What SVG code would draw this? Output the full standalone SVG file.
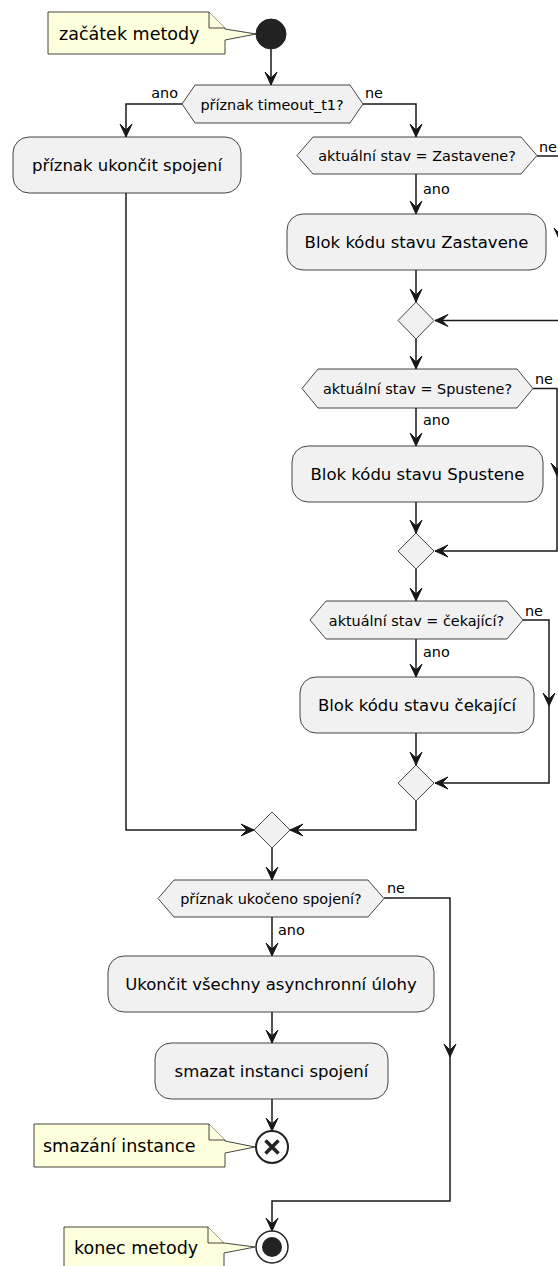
<svg xmlns="http://www.w3.org/2000/svg" xmlns:xlink="http://www.w3.org/1999/xlink" width="558" height="1266" viewBox="0 0 558 1266">
<style>
.act{fill:#F1F1F1;stroke:#181818;stroke-width:0.8}
.dec{fill:#F1F1F1;stroke:#181818;stroke-width:0.8}
.note{fill:#FEFFDD;stroke:#181818;stroke-width:0.8}
.ln{fill:none;stroke:#181818;stroke-width:1.5}
.ah{fill:#181818;stroke:#181818;stroke-width:1}
.ta{font-family:"DejaVu Sans",sans-serif;font-size:16.5px;fill:#000;text-anchor:middle}
.td{font-family:"DejaVu Sans",sans-serif;font-size:14.4px;fill:#000;text-anchor:middle}
.tl{font-family:"DejaVu Sans",sans-serif;font-size:14.4px;fill:#000}
.tn{font-family:"DejaVu Sans",sans-serif;font-size:17.5px;fill:#000}
</style>
<defs>
<path id="ah" d="M0,0 L-6,-13 L0,-7 L6,-13 Z"/>
</defs>

<g id="connectors">
<path class="ln" d="M271,49 V85"/>
<use xlink:href="#ah" class="ah" transform="translate(271,85)"/>
<path class="ln" d="M182,104 H126 V137"/>
<use xlink:href="#ah" class="ah" transform="translate(126,137)"/>
<path class="ln" d="M363,104 H416 V137"/>
<use xlink:href="#ah" class="ah" transform="translate(416,137)"/>
<path class="ln" d="M416,174 V214"/>
<use xlink:href="#ah" class="ah" transform="translate(416,214)"/>
<path class="ln" d="M537,156 H560 V320.5 H435"/>
<use xlink:href="#ah" class="ah" transform="translate(560,241)"/>
<use xlink:href="#ah" class="ah" transform="translate(435,320.5) rotate(90)"/>
<path class="ln" d="M416,270 V302"/>
<use xlink:href="#ah" class="ah" transform="translate(416,302)"/>
<path class="ln" d="M416,339 V369"/>
<use xlink:href="#ah" class="ah" transform="translate(416,369)"/>
<path class="ln" d="M416,408 V446"/>
<use xlink:href="#ah" class="ah" transform="translate(416,446)"/>
<path class="ln" d="M533,388.5 H557 V551 H435"/>
<use xlink:href="#ah" class="ah" transform="translate(557,476)"/>
<use xlink:href="#ah" class="ah" transform="translate(435,551) rotate(90)"/>
<path class="ln" d="M416,502 V533"/>
<use xlink:href="#ah" class="ah" transform="translate(416,533)"/>
<path class="ln" d="M416,569 V601"/>
<use xlink:href="#ah" class="ah" transform="translate(416,601)"/>
<path class="ln" d="M416,639 V677"/>
<use xlink:href="#ah" class="ah" transform="translate(416,677)"/>
<path class="ln" d="M523,620 H549 V783 H435"/>
<use xlink:href="#ah" class="ah" transform="translate(549,706)"/>
<use xlink:href="#ah" class="ah" transform="translate(435,783) rotate(90)"/>
<path class="ln" d="M416,733 V765"/>
<use xlink:href="#ah" class="ah" transform="translate(416,765)"/>
<path class="ln" d="M416,801 V830 H290"/>
<use xlink:href="#ah" class="ah" transform="translate(290,830) rotate(90)"/>
<path class="ln" d="M126,193 V830 H254"/>
<use xlink:href="#ah" class="ah" transform="translate(254,830) rotate(-90)"/>
<path class="ln" d="M272,848 V880"/>
<use xlink:href="#ah" class="ah" transform="translate(272,880)"/>
<path class="ln" d="M272,917 V956"/>
<use xlink:href="#ah" class="ah" transform="translate(272,956)"/>
<path class="ln" d="M272,1012 V1043"/>
<use xlink:href="#ah" class="ah" transform="translate(272,1043)"/>
<path class="ln" d="M272,1099 V1131"/>
<use xlink:href="#ah" class="ah" transform="translate(272,1131)"/>
<path class="ln" d="M384,898 H450 V1201 H272 V1231"/>
<use xlink:href="#ah" class="ah" transform="translate(450,1057)"/>
<use xlink:href="#ah" class="ah" transform="translate(272,1231)"/>
<text class="tl" x="178" y="98" text-anchor="end">ano</text>
<text class="tl" x="365" y="98">ne</text>
<text class="tl" x="539" y="152">ne</text>
<text class="tl" x="423" y="194">ano</text>
<text class="tl" x="535" y="384">ne</text>
<text class="tl" x="423" y="425">ano</text>
<text class="tl" x="525" y="616">ne</text>
<text class="tl" x="423" y="657">ano</text>
<text class="tl" x="387" y="893">ne</text>
<text class="tl" x="278" y="935">ano</text>
</g>

<g id="start">
<circle cx="271" cy="34" r="15" fill="#222222" stroke="#222222"/>
</g>
<g id="note-start">
<path class="note" d="M48,12 H209 L225,28 V29 L256,34 L225,40 V54 H48 Z"/>
<path class="note" d="M209,12 V28 H225" fill="none"/>
<text class="tn" x="59" y="40">začátek metody</text>
</g>

<g id="dec-timeout">
<polygon class="dec" points="182,104 195,85 350,85 363,104 350,123 195,123"/>
<text class="td" x="272" y="109.5">příznak timeout_t1?</text>
</g>
<g id="act-ukoncit">
<rect class="act" x="13" y="137" width="228" height="56" rx="16"/>
<text class="ta" x="127" y="171">příznak ukončit spojení</text>
</g>

<g id="dec-zastavene">
<polygon class="dec" points="297,155.5 313,137 521,137 537,155.5 521,174 313,174"/>
<text class="td" x="417" y="161">aktuální stav = Zastavene?</text>
</g>
<g id="act-zastavene">
<rect class="act" x="287" y="214" width="259" height="56" rx="16"/>
<text class="ta" x="416.5" y="248">Blok kódu stavu Zastavene</text>
</g>
<g id="merge1">
<polygon class="dec" points="416,302 434,320.5 416,339 398,320.5"/>
</g>

<g id="dec-spustene">
<polygon class="dec" points="302,388.5 318,369 517,369 533,388.5 517,408 318,408"/>
<text class="td" x="417.5" y="394">aktuální stav = Spustene?</text>
</g>
<g id="act-spustene">
<rect class="act" x="292" y="446" width="251" height="56" rx="16"/>
<text class="ta" x="417.5" y="480">Blok kódu stavu Spustene</text>
</g>
<g id="merge2">
<polygon class="dec" points="416,533 434,551 416,569 398,551"/>
</g>

<g id="dec-cekajici">
<polygon class="dec" points="310,620 326,601 507,601 523,620 507,639 326,639"/>
<text class="td" x="416.5" y="625.5">aktuální stav = čekající?</text>
</g>
<g id="act-cekajici">
<rect class="act" x="300" y="677" width="234" height="56" rx="16"/>
<text class="ta" x="417" y="711">Blok kódu stavu čekající</text>
</g>
<g id="merge3">
<polygon class="dec" points="416,765 434,783 416,801 398,783"/>
</g>

<g id="merge4">
<polygon class="dec" points="272,812 290,830 272,848 254,830"/>
</g>

<g id="dec-ukonceno">
<polygon class="dec" points="158,898.5 174,880 368,880 384,898.5 368,917 174,917"/>
<text class="td" x="271" y="904">příznak ukočeno spojení?</text>
</g>
<g id="act-ukoncit-ulohy">
<rect class="act" x="108" y="956" width="326" height="56" rx="16"/>
<text class="ta" x="271" y="990">Ukončit všechny asynchronní úlohy</text>
</g>
<g id="act-smazat">
<rect class="act" x="155" y="1043" width="233" height="56" rx="16"/>
<text class="ta" x="271.5" y="1077">smazat instanci spojení</text>
</g>

<g id="stop">
<circle cx="272" cy="1147" r="16" fill="#FFFFFF" stroke="#222222" stroke-width="2"/>
<path d="M265.5,1140.5 L278.5,1153.5 M278.5,1140.5 L265.5,1153.5" stroke="#222222" stroke-width="3.5" fill="none"/>
</g>
<g id="note-smazani">
<path class="note" d="M34,1124 H209 L225,1140 V1141 L255,1147 L225,1153 V1167 H34 Z"/>
<path class="note" d="M209,1124 V1140 H225" fill="none"/>
<text class="tn" x="43" y="1152">smazání instance</text>
</g>

<g id="end">
<circle cx="272" cy="1247" r="16" fill="#FFFFFF" stroke="#222222" stroke-width="1.5"/>
<circle cx="272" cy="1247" r="10" fill="#222222"/>
</g>
<g id="note-konec">
<path class="note" d="M64,1227 H208 L224,1243 V1243 L255,1247 L224,1253 V1272 H64 Z"/>
<path class="note" d="M208,1227 V1243 H224" fill="none"/>
<text class="tn" x="74" y="1254">konec metody</text>
</g>
</svg>
